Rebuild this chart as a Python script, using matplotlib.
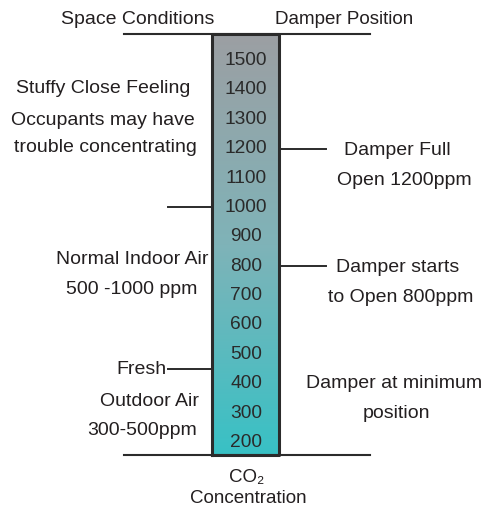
import matplotlib.pyplot as plt
import numpy as np
from matplotlib.colors import LinearSegmentedColormap

plt.rcParams['font.family'] = ['Liberation Sans', 'DejaVu Sans']

# CO2 scale levels (ppm) printed inside the bar
levels = [200, 300, 400, 500, 600, 700, 800, 900, 1000, 1100, 1200, 1300, 1400, 1500]

# bar range (ppm)
bar_low, bar_high = 150, 1582

# marker lines (ppm) on each side of the bar
left_marks = [1000, 450]
right_marks = [1200, 800]

# labels: (text, x, ppm)
left_labels = [
    ("Stuffy Close Feeling", 103, 1398),
    ("Occupants may have", 103, 1292),
    ("trouble concentrating", 105, 1200),
    ("Normal Indoor Air", 132, 816),
    ("500 -1000 ppm", 132, 717),
    ("Outdoor Air", 150, 336),
    ("300-500ppm", 142, 237),
]
right_labels = [
    ("Damper Full", 397, 1187),
    ("Open 1200ppm", 404, 1088),
    ("Damper starts", 398, 789),
    ("to Open 800ppm", 401, 690),
    ("Damper at minimum", 394, 397),
    ("position", 396, 295),
]

txt = '#231f20'
line_c = '#2b2b2b'

fig = plt.figure(figsize=(4.83, 5.06), dpi=100)
ax = fig.add_axes([0, 0, 1, 1])
ax.set_xlim(0, 483)
ax.set_ylim(-21.2, 1700.8)
ax.axis('off')

# gradient bar
cmap = LinearSegmentedColormap.from_list('co2', ['#38c1c5', '#7fb3b8', '#9c9fa3'])
grad = np.linspace(0, 1, 256).reshape(-1, 1)
ax.imshow(grad, cmap=cmap, origin='lower', aspect='auto',
          extent=[212, 279, bar_low, bar_high], zorder=1)
ax.plot([212, 279, 279, 212, 212], [bar_low, bar_low, bar_high, bar_high, bar_low],
        color=line_c, lw=2.2, zorder=3)

for v in levels:
    ax.text(246, v - 5, str(v), ha='center', va='center', fontsize=13.8, color='#2a2a2a', zorder=4)

# top and bottom rules
ax.plot([124, 370], [bar_high, bar_high], color=line_c, lw=1.5, zorder=2)
ax.plot([124, 370], [bar_low, bar_low], color=line_c, lw=1.5, zorder=2)

for v in left_marks:
    ax.plot([168, 212], [v - 8, v - 8], color=line_c, lw=1.4, zorder=2)
for v in right_marks:
    ax.plot([279, 326], [v - 8, v - 8], color=line_c, lw=1.4, zorder=2)

ax.text(138, 1633, "Space Conditions", ha='center', va='center', fontsize=14, color=txt)
ax.text(344, 1633, "Damper Position", ha='center', va='center', fontsize=13.5, color=txt)

for s, x, y in left_labels:
    ax.text(x, y, s, ha='center', va='center', fontsize=14, color=txt)
ax.text(166, 442, "Fresh", ha='right', va='center', fontsize=14, color=txt)

for s, x, y in right_labels:
    ax.text(x, y, s, ha='center', va='center', fontsize=14, color=txt)

ax.text(247, 77, "CO\u2082", ha='center', va='center', fontsize=13.5, color=txt)
ax.text(248, 6, "Concentration", ha='center', va='center', fontsize=13.5, color=txt)

fig.savefig('out.png', dpi=100)
